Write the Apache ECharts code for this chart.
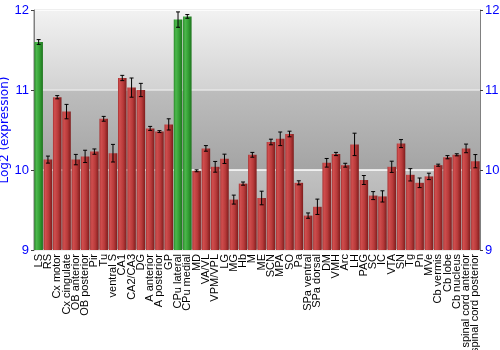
<!DOCTYPE html>
<html><head><meta charset="utf-8">
<script src="https://cdn.jsdelivr.net/npm/echarts@6/dist/echarts.min.js"></script>
<style>html,body{margin:0;padding:0;background:#fff}#c{width:500px;height:350px}</style>
</head><body><div id="c"></div>
<script>
var categories = ["LS","RS","Cx motor","Cx cingulate","OB anterior","OB posterior","Pir","Tu","ventral S","CA1","CA2/CA3","DG","A anterior","A posterior","GP","CPu lateral","CPu medial","MD","VA/VL","VPM/VPL","LG","MG","Hb","M","ME","SCN","MPA","SO","Pa","SPa ventral","SPa dorsal","DM","VMH","Arc","LH","PAG","SC","IC","VTA","SN","Tg","Pn","MVe","Cb vermis","Cb lobe","Cb nucleus","spinal cord anterior","spinal cord posterior"];
var values = [11.6,10.13,10.91,10.73,10.13,10.17,10.23,10.64,10.21,11.15,11.03,11.0,10.52,10.48,10.57,11.88,11.92,9.99,10.27,10.04,10.14,9.63,9.83,10.19,9.65,10.35,10.39,10.45,9.84,9.43,9.54,10.09,10.2,10.06,10.32,9.875,9.68,9.67,10.04,10.33,9.94,9.84,9.92,10.06,10.16,10.19,10.27,10.11];
var errors = [0.03,0.044,0.02,0.09,0.065,0.077,0.033,0.03,0.11,0.033,0.12,0.083,0.025,0.012,0.07,0.096,0.023,0.012,0.035,0.067,0.058,0.056,0.02,0.03,0.085,0.035,0.085,0.035,0.025,0.033,0.096,0.054,0.02,0.024,0.14,0.056,0.05,0.07,0.07,0.05,0.077,0.06,0.04,0.013,0.02,0.013,0.054,0.083];
var highlighted = ["LS","CPu lateral","CPu medial"];
var yTicks = [9,10,11,12];

var redGrad = new echarts.graphic.LinearGradient(0,0,1,0,[{offset:0,color:'#a83232'},{offset:0.2,color:'#d04e4e'},{offset:0.6,color:'#b83a3a'},{offset:1,color:'#7e1c1c'}]);
var greenGrad = new echarts.graphic.LinearGradient(0,0,1,0,[{offset:0,color:'#2a8a2a'},{offset:0.25,color:'#4cb84c'},{offset:0.6,color:'#35a035'},{offset:1,color:'#1d741d'}]);
function band(a,b){return new echarts.graphic.LinearGradient(0,0,0,1,[{offset:0,color:a},{offset:1,color:b}]);}

var barData = values.map(function(v,i){
  return {value:v,itemStyle:{color: highlighted.indexOf(categories[i])>=0 ? greenGrad : redGrad}};
});
var errData = values.map(function(v,i){return [i, v-errors[i], v+errors[i]];});

var chart = echarts.init(document.getElementById('c'),null,{renderer:'canvas'});
var yBase = {
  type:'value', min:yTicks[0], max:yTicks[yTicks.length-1], interval:1,
  axisLabel:{color:'#0000ff', fontSize:13, fontFamily:'Liberation Sans', margin:5},
  axisTick:{show:true, length:3, lineStyle:{color:'#404040'}},
  axisLine:{show:true, lineStyle:{color:'#808080', width:1}}
};
chart.setOption({
  animation:false,
  grid:{left:34,right:20,top:10,bottom:100,containLabel:false,outerBoundsMode:'none',show:true,borderColor:'#808080',borderWidth:1,backgroundColor:'transparent'},
  xAxis:{type:'category',data:categories,
    axisLabel:{rotate:90,interval:0,fontSize:11,color:'#000',fontFamily:'Liberation Sans',margin:4},
    axisTick:{show:false},axisLine:{show:false}},
  yAxis:[
    Object.assign({}, yBase, {position:'left', name:'Log2 (expression)', nameLocation:'middle', nameGap:23, nameMoveOverlap:false,
      nameTextStyle:{color:'#0000ff',fontSize:12,fontFamily:'DejaVu Sans'},
      splitLine:{show:true,lineStyle:{color:['#ffffff','#ffffff','#e6e6e6','#ffffff'],width:1.5}},
      splitArea:{show:true,areaStyle:{color:[band('#c2c2c2','#a6a6a6'),band('#bdbdbd','#a4a4a4'),band('#f2f2f2','#d2d2d2')]}}}),
    Object.assign({}, yBase, {position:'right', splitLine:{show:false}, splitArea:{show:false}})
  ],
  series:[
    {type:'bar',data:barData,barCategoryGap:'8%',yAxisIndex:0,z:2},
    {type:'custom',data:errData,yAxisIndex:0,z:3,
      renderItem:function(params,api){
        var x=api.value(0), lo=api.coord([x,api.value(1)]), hi=api.coord([x,api.value(2)]);
        var w=2;
        var st={stroke:'#000',lineWidth:1};
        return {type:'group',children:[
          {type:'line',shape:{x1:lo[0],y1:lo[1],x2:hi[0],y2:hi[1]},style:st},
          {type:'line',shape:{x1:lo[0]-w,y1:lo[1],x2:lo[0]+w,y2:lo[1]},style:st},
          {type:'line',shape:{x1:hi[0]-w,y1:hi[1],x2:hi[0]+w,y2:hi[1]},style:st}
        ]};
      }}
  ]
});
</script></body></html>
